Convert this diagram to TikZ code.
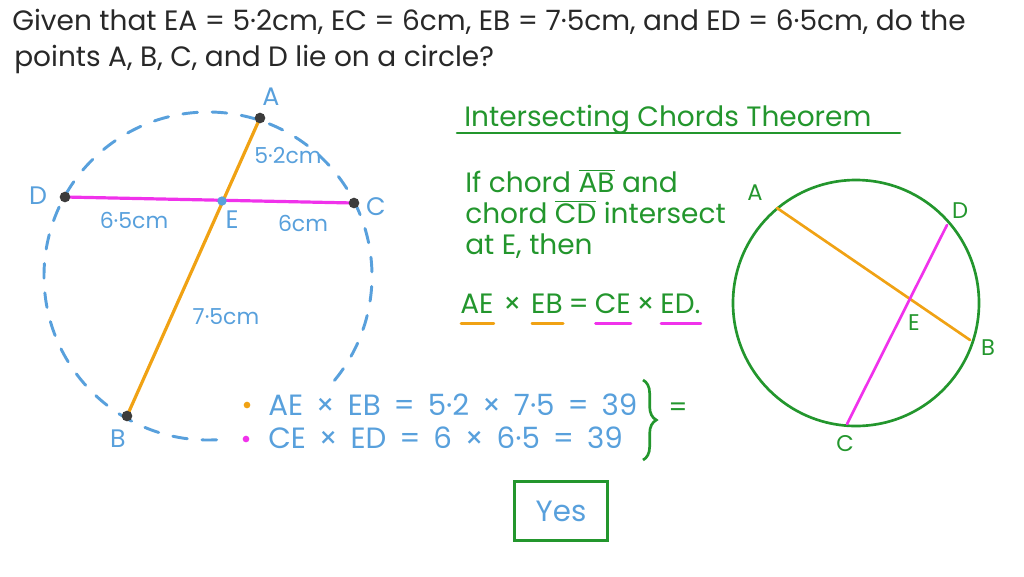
\documentclass[tikz,border=0pt]{standalone}
\usepackage{fontspec}
\setmainfont{Poppins}
\usetikzlibrary{decorations.pathreplacing,positioning,calc}
\definecolor{cblue}{RGB}{88,160,220}
\definecolor{corange}{RGB}{240,162,20}
\definecolor{cmag}{RGB}{240,50,235}
\definecolor{cgreen}{RGB}{35,150,45}
\definecolor{cdot}{RGB}{60,60,60}
\definecolor{ctext}{RGB}{40,40,40}
\newcommand{\eqfont}{\fontsize{22}{26}\selectfont\spaceskip=0.44em\relax}
\tikzset{
  hdr/.style={anchor=base west,inner sep=0pt,text=ctext,font=\fontsize{21}{25}\selectfont},
  lbl/.style={text=cblue,inner sep=0pt,font=\fontsize{19}{23}\selectfont},
  msr/.style={text=cblue,inner sep=0pt,font=\fontsize{16.5}{20}\selectfont},
  grn/.style={anchor=base west,inner sep=0pt,text=cgreen,font=\fontsize{21}{25}\selectfont},
  rlbl/.style={text=cgreen,inner sep=0pt,font=\fontsize{17}{21}\selectfont},
  eqn/.style={anchor=base west,inner sep=0pt,text=cblue,font=\eqfont},
  ptdot/.style={circle,fill=cdot,inner sep=0pt,minimum size=8pt},
  edot/.style={circle,fill=cblue,inner sep=0pt,minimum size=7pt},
  chordo/.style={corange,line width=2.4pt,line cap=round},
  chordm/.style={cmag,line width=2.4pt,line cap=round},
  eqpart/.style={anchor=base west,inner sep=0pt,text=cgreen,font=\fontsize{21}{25}\selectfont},
}
\begin{document}
\begin{tikzpicture}[x=0.75pt,y=-0.75pt]
\useasboundingbox (0,0) rectangle (1024,576);
% header
\node[hdr] (h1) at (12,30) {Given that EA = 5·2cm, EC = 6cm, EB = 7·5cm, and ED = 6·5cm, do the};
\node[hdr] (h2) at (14,66) {points  A, B, C, and D lie on a circle?};
% left diagram
\draw[cblue,line width=2.2pt,dash pattern=on 11pt off 11pt,line cap=round] (208,276) ++(87:164) arc[start angle=87,end angle=402,radius=164];
\coordinate (lA) at (260,118);
\coordinate (lD) at (65,197);
\coordinate (lC) at (354,203);
\coordinate (lB) at (127,416);
\coordinate (lE) at (222,201);
\draw[chordm] (lD) -- (lC);
\draw[chordo] (lA) -- (lB);
\node[ptdot] (dA) at (lA) {};
\node[ptdot] (dD) at (lD) {};
\node[ptdot] (dC) at (lC) {};
\node[ptdot] (dB) at (lB) {};
\node[edot] (dE) at (lE) {};
\node[lbl] (tA) at (271,97) {A};
\node[lbl] (tD) at (38,196) {D};
\node[lbl] (tC) at (376,207) {C};
\node[lbl] (tB) at (118,439) {B};
\node[lbl] (tE) at (232,220) {E};
\node[msr] (m1) at (288,155) {5·2cm};
\node[msr] (m2) at (134,220) {6·5cm};
\node[msr] (m3) at (303,223) {6cm};
\node[msr] (m4) at (226,317) {7·5cm};
% theorem
\node[grn] (th) at (464,126) {Intersecting Chords Theorem};
\draw[cgreen,line width=2pt,line cap=round] (457,133) -- (900,133);
\node[grn] (t1) at (465,192) {If chord \(\overline{\mbox{AB}}\) and};
\node[grn] (t2) at (465,223) {chord \(\overline{\mbox{CD}}\) intersect};
\node[grn] (t3) at (465,254) {at E, then};
\node[eqpart] (q1) at (460,313) {AE};
\node[eqpart,right=7pt of q1.base east,anchor=base west] (q2) {×};
\node[eqpart,right=7pt of q2.base east,anchor=base west] (q3) {EB};
\node[eqpart,right=4pt of q3.base east,anchor=base west] (q4) {=};
\node[eqpart,right=4pt of q4.base east,anchor=base west] (q5) {CE};
\node[eqpart,right=4pt of q5.base east,anchor=base west] (q6) {×};
\node[eqpart,right=4pt of q6.base east,anchor=base west] (q7) {ED.};
\draw[corange,line width=2.2pt,line cap=round] ($(q1.south west)+(1,10)$) -- ($(q1.south east)+(0,10)$);
\draw[corange,line width=2.2pt,line cap=round] ($(q3.south west)+(1,10)$) -- ($(q3.south east)+(0,10)$);
\draw[cmag,line width=2.2pt,line cap=round] ($(q5.south west)+(1,10)$) -- ($(q5.south east)+(0,10)$);
\draw[cmag,line width=2.2pt,line cap=round] ($(q7.south west)+(1,10)$) -- ($(q7.south east)+(0,10)$);
% right diagram
\draw[cgreen,line width=2pt] (856,303) circle[radius=123];
\coordinate (rA) at (777,208);
\coordinate (rD) at (947,225);
\coordinate (rB) at (970,340);
\coordinate (rC) at (847,424);
\draw[chordo,line width=2pt] (rA) -- (rB);
\draw[chordm,line width=2pt] (rC) -- (rD);
\node[rlbl] (sA) at (755,193) {A};
\node[rlbl] (sD) at (960,211) {D};
\node[rlbl] (sB) at (988,348) {B};
\node[rlbl] (sC) at (845,444) {C};
\node[rlbl] (sE) at (914,323) {E};
% equations
\node[circle,fill=corange,inner sep=0pt,minimum size=5pt] (b1) at (247,405) {};
\node[circle,fill=cmag,inner sep=0pt,minimum size=5pt] (b2) at (246,439) {};
\node[eqn] (e1) at (268,415) {AE × EB = 5·2 × 7·5 = 39};
\node[eqn] (e2) at (268,448) {CE × ED = 6 × 6·5 = 39};
\draw[cgreen,line width=2pt,decorate,decoration={brace,amplitude=10pt}] (643,380) -- (643,460) coordinate[pos=0.5] (bm);
\node[text=cgreen,inner sep=0pt,font=\fontsize{20}{24}\selectfont] (eqs) at (678,410) {=};
\node[draw=cgreen,line width=2pt,minimum width=70pt,minimum height=44pt,text=cblue,font=\fontsize{22}{26}\selectfont] (yes) at (561,511) {Yes};
\end{tikzpicture}
\end{document}
